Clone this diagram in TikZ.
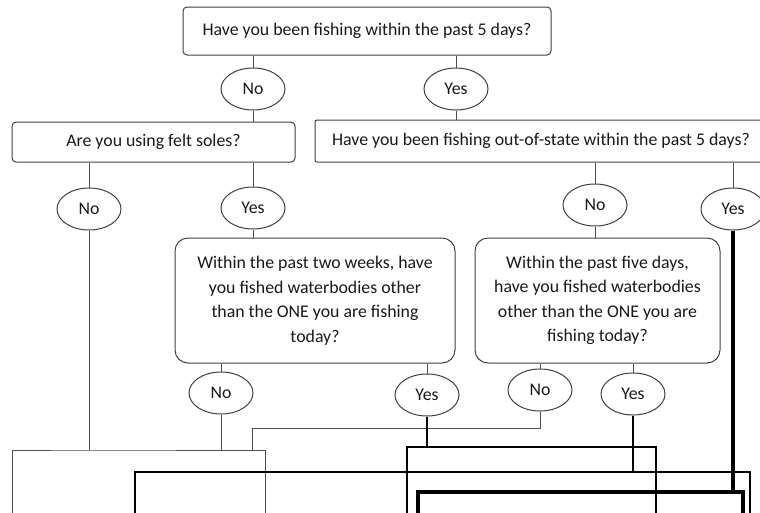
\documentclass[tikz,border=0pt]{standalone}
\usepackage{fontspec}
\setmainfont{Carlito}
\usetikzlibrary{shapes.geometric}
\begin{document}
\begin{tikzpicture}[x=1pt,y=-1pt,
  txt/.style={font=\fontsize{17.8}{24.5}\selectfont, text=black!90},
  qbox/.style={txt, draw=black!75, line width=1pt, rounded corners=4pt, inner sep=0pt, align=center},
  dbox/.style={qbox, rounded corners=13pt},
  ans/.style={txt, draw=black!75, line width=1pt, ellipse, inner sep=0pt, minimum width=64pt, minimum height=42pt},
  link/.style={draw=black!70, line width=1pt},
  medlink/.style={draw=black, line width=2pt},
  boldlink/.style={draw=black, line width=2.6pt},
  heavylink/.style={draw=black, line width=4pt}]
\useasboundingbox (0,0) rectangle (760,512);
\clip (0,0) rectangle (760,512);

% question boxes
\node[qbox, minimum width=368pt, minimum height=48pt] (top) at (367,31) {Have you been fishing within the past 5 days?};
\node[qbox, minimum width=283pt, minimum height=40pt] (felt) at (153.5,142) {Are you using felt soles?};
\node[qbox, minimum width=452pt, minimum height=42pt, rounded corners=2pt] (oos) at (541,141) {Have you been fishing out-of-state within the past 5 days?};
\node[dbox, minimum width=280pt, minimum height=125pt] (ld) at (315,300.5) {Within the past two weeks, have\\you fished waterbodies other\\than the ONE you are fishing\\today?};
\node[dbox, minimum width=245pt, minimum height=125pt] (rd) at (597.5,300.5) {Within the past five days,\\have you fished waterbodies\\other than the ONE you are\\fishing today?};

% answers
\node[ans] (a1) at (253,89) {No};
\node[ans] (a2) at (456,89) {Yes};
\node[ans] (a3) at (89,209) {No};
\node[ans] (a4) at (253,208) {Yes};
\node[ans] (a5) at (595,205) {No};
\node[ans] (a6) at (733,209) {Yes};
\node[ans] (a7) at (221,393) {No};
\node[ans] (a8) at (427,395) {Yes};
\node[ans] (a9) at (540,390) {No};
\node[ans] (a10) at (633,394) {Yes};

% upper connectors
\draw[link] (top.south -| a1) -- (a1.north);
\draw[link] (a1.south) -- (a1.south |- felt.north);
\draw[link] (top.south -| a2) -- (a2.north);
\draw[link] (a2.south) -- (a2.south |- oos.north);
\draw[link] (felt.south -| a3) -- (a3.north);
\draw[link] (felt.south -| a4) -- (a4.north);
\draw[link] (oos.south -| a5) -- (a5.north);
\draw[link] (oos.south -| a6) -- (a6.north);
\draw[link] (a4.south) -- (a4.south |- ld.north);
\draw[link] (a5.south) -- (a5.south |- rd.north);
\draw[link] (ld.south -| a7) -- (a7.north);
\draw[link] (ld.south -| a8) -- (a8.north);
\draw[link] (rd.south -| a9) -- (a9.north);
\draw[link] (rd.south -| a10) -- (a10.north);

% lower routing coordinates
\coordinate (j1) at (89,450);
\coordinate (l1a) at (12,515);
\coordinate (l1b) at (265,515);
\coordinate (k9) at (252,428);
\coordinate (k9b) at (252,450);
\coordinate (j8) at (427,447);
\coordinate (l8a) at (407,515);
\coordinate (l8b) at (656,515);
\coordinate (j10) at (633,472);
\coordinate (l10a) at (135,515);
\coordinate (l10b) at (750,515);
\coordinate (j6) at (733,492);
\coordinate (l6a) at (418,515);
\coordinate (l6b) at (743,515);

% No branches (thin)
\draw[link] (a3.south) -- (j1);
\draw[link] (l1a) |- (j1) -| (l1b);
\draw[link] (a7.south) -- (a7.south |- j1);
\draw[link] (a9.south) |- (k9) -- (k9b);

% Yes branch of left decision
\draw[medlink] (a8.south) -- (j8);
\draw[medlink] (l8a) |- (j8) -| (l8b);

% Yes branch of right decision
\draw[boldlink] (a10.south) -- (j10);
\draw[boldlink] (l10a) |- (j10) -| (l10b);

% Yes branch of out-of-state question
\draw[heavylink] (a6.south) -- (j6);
\draw[heavylink] (l6a) |- (j6) -| (l6b);
\end{tikzpicture}
\end{document}
